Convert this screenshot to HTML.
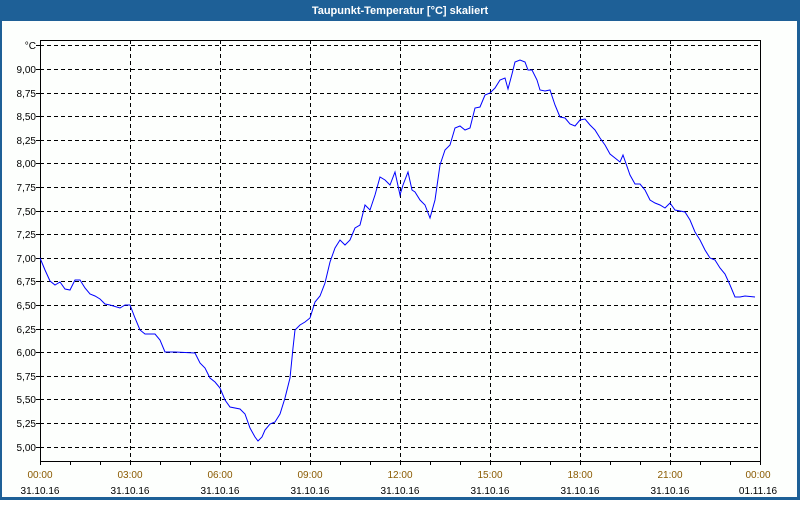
<!DOCTYPE html>
<html><head><meta charset="utf-8"><style>
body{margin:0;width:800px;height:500px;overflow:hidden;background:#fff;font-family:"Liberation Sans",sans-serif}
</style></head><body>
<svg width="800" height="500" xmlns="http://www.w3.org/2000/svg" font-family="Liberation Sans, sans-serif" font-size="10">
<rect x="0" y="0" width="800" height="500" fill="#1e6097"/>
<rect x="2" y="21" width="795" height="476" fill="#fdfffd"/>
<text x="400" y="14" fill="#fff" font-weight="bold" text-anchor="middle" font-size="11">Taupunkt-Temperatur [°C] skaliert</text>
<g stroke="#000" stroke-dasharray="4,3" stroke-width="1">
<line x1="40" y1="45.5" x2="760" y2="45.5"/>
<line x1="40" y1="69.5" x2="760" y2="69.5"/>
<line x1="40" y1="93.5" x2="760" y2="93.5"/>
<line x1="40" y1="116.5" x2="760" y2="116.5"/>
<line x1="40" y1="140.5" x2="760" y2="140.5"/>
<line x1="40" y1="163.5" x2="760" y2="163.5"/>
<line x1="40" y1="187.5" x2="760" y2="187.5"/>
<line x1="40" y1="211.5" x2="760" y2="211.5"/>
<line x1="40" y1="234.5" x2="760" y2="234.5"/>
<line x1="40" y1="258.5" x2="760" y2="258.5"/>
<line x1="40" y1="281.5" x2="760" y2="281.5"/>
<line x1="40" y1="305.5" x2="760" y2="305.5"/>
<line x1="40" y1="329.5" x2="760" y2="329.5"/>
<line x1="40" y1="352.5" x2="760" y2="352.5"/>
<line x1="40" y1="376.5" x2="760" y2="376.5"/>
<line x1="40" y1="399.5" x2="760" y2="399.5"/>
<line x1="40" y1="423.5" x2="760" y2="423.5"/>
<line x1="40" y1="447.5" x2="760" y2="447.5"/>
<line x1="130.5" y1="40" x2="130.5" y2="461"/>
<line x1="220.5" y1="40" x2="220.5" y2="461"/>
<line x1="310.5" y1="40" x2="310.5" y2="461"/>
<line x1="400.5" y1="40" x2="400.5" y2="461"/>
<line x1="490.5" y1="40" x2="490.5" y2="461"/>
<line x1="580.5" y1="40" x2="580.5" y2="461"/>
<line x1="670.5" y1="40" x2="670.5" y2="461"/>
</g>
<rect x="40.5" y="40.5" width="720" height="421" fill="none" stroke="#000"/>
<g stroke="#000">
<path d="M40.5 461v4M70.5 461v4M100.5 461v4M130.5 461v4M160.5 461v4M190.5 461v4M220.5 461v4M250.5 461v4M280.5 461v4M310.5 461v4M340.5 461v4M370.5 461v4M400.5 461v4M430.5 461v4M460.5 461v4M490.5 461v4M520.5 461v4M550.5 461v4M580.5 461v4M610.5 461v4M640.5 461v4M670.5 461v4M700.5 461v4M730.5 461v4M760.5 461v4"/>
<path d="M36 45.5h4M36 69.5h4M36 93.5h4M36 116.5h4M36 140.5h4M36 163.5h4M36 187.5h4M36 211.5h4M36 234.5h4M36 258.5h4M36 281.5h4M36 305.5h4M36 329.5h4M36 352.5h4M36 376.5h4M36 399.5h4M36 423.5h4M36 447.5h4"/>
</g>
<g text-anchor="end" fill="#000">
<text x="36" y="49">°C</text>
<text x="36" y="73">9,00</text><text x="36" y="97">8,75</text><text x="36" y="120">8,50</text>
<text x="36" y="144">8,25</text><text x="36" y="167">8,00</text><text x="36" y="191">7,75</text>
<text x="36" y="215">7,50</text><text x="36" y="238">7,25</text><text x="36" y="262">7,00</text>
<text x="36" y="285">6,75</text><text x="36" y="309">6,50</text><text x="36" y="333">6,25</text>
<text x="36" y="356">6,00</text><text x="36" y="380">5,75</text><text x="36" y="403">5,50</text>
<text x="36" y="427">5,25</text><text x="36" y="451">5,00</text>
</g>
<g text-anchor="middle" fill="#8a5a00">
<text x="40" y="478">00:00</text><text x="130" y="478">03:00</text><text x="220" y="478">06:00</text>
<text x="310" y="478">09:00</text><text x="400" y="478">12:00</text><text x="490" y="478">15:00</text>
<text x="580" y="478">18:00</text><text x="670" y="478">21:00</text><text x="758" y="478">00:00</text>
</g>
<g text-anchor="middle" fill="#000">
<text x="40" y="494">31.10.16</text><text x="130" y="494">31.10.16</text><text x="220" y="494">31.10.16</text>
<text x="310" y="494">31.10.16</text><text x="400" y="494">31.10.16</text><text x="490" y="494">31.10.16</text>
<text x="580" y="494">31.10.16</text><text x="670" y="494">31.10.16</text><text x="758" y="494">01.11.16</text>
</g>
<polyline fill="none" stroke="#0000ff" stroke-width="1" points="40,258 45,270 50,281 55,285 60,282 65,289 70,290 75,280 80,280 85,288 90,294 95,296 100,299 105,304 110,305 120,308 125,305 130,305 135,318 140,330 145,334 155,334 160,340 165,352 175,352 195,353 200,363 205,368 210,378 215,382 220,388 225,400 230,407 240,409 245,414 250,428 255,437 258,441 262,437 265,430 270,424 275,422 280,414 285,398 290,378 293,348 295,330 300,325 305,322 310,318 315,302 320,296 325,283 330,262 335,248 340,240 345,245 350,240 355,228 360,225 365,205 370,210 375,195 380,177 385,180 390,185 395,172 400,195 403,185 408,172 412,190 415,192 420,200 425,205 430,218 435,200 440,165 445,150 450,145 455,128 460,126 465,130 470,128 475,108 480,107 485,95 490,93 495,88 500,80 505,78 508,89 512,74 515,62 520,60 525,62 528,70 532,70 537,80 540,90 545,91 550,90 555,105 560,117 565,118 570,124 575,126 580,120 585,119 590,125 595,130 600,138 605,145 610,154 615,158 620,162 623,155 630,175 635,184 640,184 645,190 650,200 655,203 660,205 665,208 670,203 675,210 685,212 690,220 695,232 700,240 705,250 710,258 715,260 720,268 725,274 730,285 735,297 740,297 745,296 755,297"/>
</svg>
</body></html>
